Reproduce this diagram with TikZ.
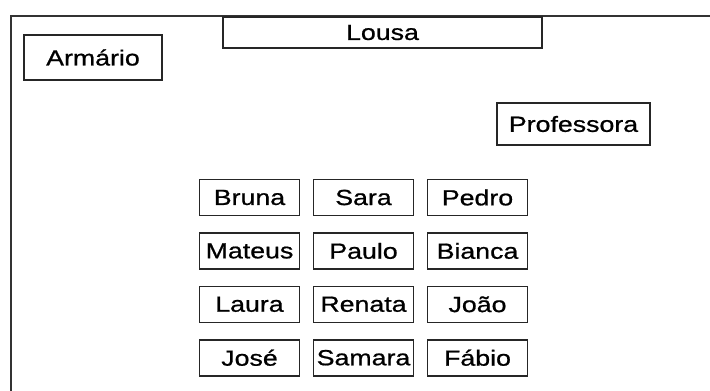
\documentclass[tikz,border=0pt]{standalone}
\usepackage{fontspec}
\setmainfont{Liberation Sans}
\newfontfamily\roomfont[FakeStretch=1.22, FakeBold=0.8]{Liberation Sans}
\usetikzlibrary{positioning}

\tikzset{
    desk/.style={draw=black!85, line width=1.6bp, minimum width=100bp,
        minimum height=36bp, inner sep=0pt},
    wall/.style={draw=black!80, line width=2.4bp}
}

\begin{document}
\begin{tikzpicture}[x=1bp, y=-1bp, font=\roomfont\fontsize{22}{24}\selectfont,
    node distance=15.8bp and 12.4bp]
            \useasboundingbox (0,0) rectangle (710,390);

            % Draw the walls
            \coordinate (TR) at (712,16);
            \coordinate (TL) at (11,16);
            \coordinate (BL) at (11,392);
            \draw[wall] (TR) -- (TL) -- (BL);

            % Draw the furniture
            \node[desk, minimum width=319bp, minimum height=31bp] (lousa) at (382.5,32.5) {Lousa};
            \node[desk, minimum width=138bp, minimum height=45bp] (armario) at (93,57.5) {Armário};
            \node[desk, minimum width=153bp, minimum height=42bp] (prof) at (573.5,124) {Professora};

            % Draw the desks
            \node[desk] (bruna) at (249.5,197.5) {Bruna};
            \node[desk, right=of bruna] (sara) {Sara};
            \node[desk, right=of sara] (pedro) {Pedro};
            \node[desk, below=of bruna] (mateus) {Mateus};
            \node[desk, right=of mateus] (paulo) {Paulo};
            \node[desk, right=of paulo] (bianca) {Bianca};
            \node[desk, below=of mateus] (laura) {Laura};
            \node[desk, right=of laura] (renata) {Renata};
            \node[desk, right=of renata] (joao) {João};
            \node[desk, below=of laura] (jose) {José};
            \node[desk, right=of jose] (samara) {Samara};
            \node[desk, right=of samara] (fabio) {Fábio};
    \end{tikzpicture}
\end{document}
